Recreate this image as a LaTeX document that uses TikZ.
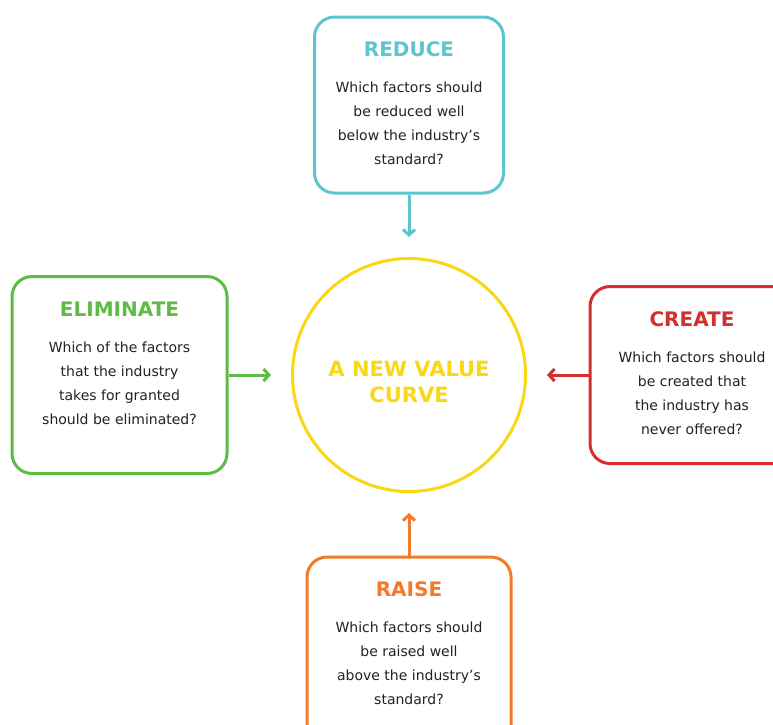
\documentclass[tikz,border=0pt]{standalone}
\usepackage{fontspec}
\setmainfont{DejaVu Sans}
\usetikzlibrary{positioning,arrows.meta}
\definecolor{reduceColor}{RGB}{91,197,208}
\definecolor{eliminateColor}{RGB}{94,187,70}
\definecolor{createColor}{RGB}{211,47,47}
\definecolor{raiseColor}{RGB}{244,122,42}
\definecolor{curveColor}{RGB}{250,215,20}
\definecolor{bodyColor}{RGB}{34,34,34}
\tikzstyle{canvas} = [x = 1pt, y = -1pt]
\tikzstyle{boxStyle} = [draw, line width = 3pt, rounded corners = 20pt, fill = white]
\tikzstyle{titleText} = [font=\fontsize{20}{22}\selectfont\bfseries, inner sep = 0pt, anchor = base]
\tikzstyle{bodyText} = [font=\fontsize{14}{24}\selectfont, text = bodyColor, align = center, inner sep = 0pt]
\tikzstyle{curveStyle} = [circle, draw = curveColor, line width = 3pt, minimum size = 233pt, inner sep = 0pt]
\tikzstyle{curveText} = [text = curveColor, font=\fontsize{21}{26}\selectfont\bfseries, align = center, inner sep = 0pt]
\tikzstyle{arrowStyle} = [line width = 3pt, -{Straight Barb[length = 5.5pt, width = 12pt]}, shorten > = 20pt]
\newcommand{\titleGap}{41pt}
\newcommand{\bodyGap}{25.5pt}
\newcommand{\actionBox}[8]{
  \node [boxStyle, draw = #2, minimum width = #5, minimum height = #6] (#1) at (#3, #4) {};
  \node [titleText, text = #2] (#1Title) at ([yshift = -\titleGap]#1.north) {#7};
  \node [bodyText, below = \bodyGap of #1Title.base] (#1Body) {#8};
}
\begin{document}
\begin{tikzpicture}[canvas]
        \useasboundingbox (0, 0) rectangle (773, 724);
        \node [curveStyle] (curve) at (409, 375) {};
        \node [curveText] (curveLabel) at ([yshift = -7pt]curve.center) {A NEW VALUE\\CURVE};

        \actionBox{reduce}{reduceColor}{409}{105}{189pt}{176pt}{REDUCE}{Which factors should\\be reduced well\\below the industry's\\standard?}
        \actionBox{eliminate}{eliminateColor}{119.5}{375}{215pt}{197pt}{ELIMINATE}{Which of the factors\\that the industry\\takes for granted\\should be eliminated?}
        \actionBox{create}{createColor}{692}{375}{204pt}{177pt}{CREATE}{Which factors should\\be created that\\the industry has\\never offered?}
        \actionBox{raise}{raiseColor}{409}{652}{204pt}{190pt}{RAISE}{Which factors should\\be raised well\\above the industry's\\standard?}

        \draw [arrowStyle, reduceColor] (reduce) -- (curve);
        \draw [arrowStyle, eliminateColor] (eliminate) -- (curve);
        \draw [arrowStyle, createColor] (create) -- (curve);
        \draw [arrowStyle, raiseColor] (raise) -- (curve);
      \end{tikzpicture}
\end{document}
